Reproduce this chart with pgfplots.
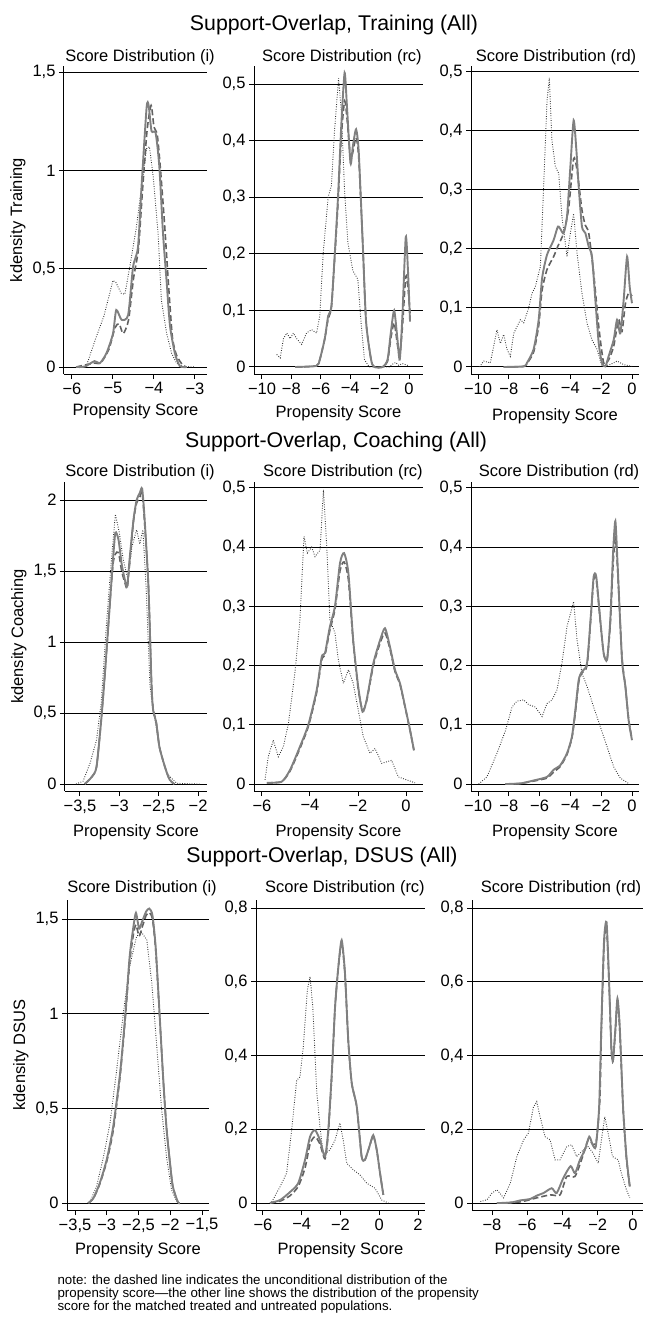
\documentclass[border=0pt]{standalone}
\usepackage{fontspec}
\setmainfont{Liberation Sans}
\usepackage{pgfplots}
\pgfplotsset{compat=1.18}

\newcommand{\fs}{\fontsize{16.5}{18}\selectfont}

\pgfplotsset{
  panel/.style={
    scale only axis,
    axis x line*=bottom, axis y line*=left,
    axis line style={black, line width=1pt},
    tick align=outside, major tick length=5pt,
    tick style={black, line width=1pt},
    minor tick num=0,
    ymajorgrids, grid style={black, line width=1pt},
    ticklabel style={font=\fs},
    label style={font=\fs},
    xlabel={Propensity Score},
    xlabel style={at={(axis description cs:0.5,0)}, anchor=base, yshift=-44pt},
  },
  dotl/.style={color=black!80, line width=0.9pt, dash pattern=on 0.8pt off 1.6pt, mark=none},
  dashl/.style={color=black!62, line width=1.6pt, dash pattern=on 6pt off 3pt, mark=none, smooth, tension=0.4},
  solidl/.style={color=black!50, line width=1.9pt, mark=none, smooth, tension=0.4},
}

\begin{document}
\begin{tikzpicture}
\path[use as bounding box] (0,0) rectangle (646pt,-1339pt);

% ---------------- Row 1: Training ----------------
\node[font=\fontsize{21.3}{24}\selectfont] at (334pt,-25pt) {Support-Overlap, Training (All)};
\node[font=\fs] at (140pt,-57pt) {Score Distribution (i)};
\node[font=\fs] at (342pt,-57pt) {Score Distribution (rc)};
\node[font=\fs] at (556pt,-57pt) {Score Distribution (rd)};

\begin{axis}[panel, at={(64pt,-374pt)}, anchor=south west, width=143pt, height=308pt,
  xmin=-6.195, xmax=-2.707, ymin=-0.0356, ymax=1.5305,
  xlabel style={yshift=3pt},
  xtick={-6,-5,-4,-3}, xticklabels={−6,−5,−4,−3},
  ytick={0,0.5,1,1.5}, yticklabels={0,{0,5},1,{1,5}},
  ylabel={kdensity Training}]
\addplot[dotl] coordinates {(-5.9,0)(-5.65,0.005)(-5.43,0.14)(-5.22,0.26)(-5.0,0.44)(-4.93,0.43)(-4.8,0.375)(-4.71,0.37)(-4.59,0.51)(-4.43,0.71)(-4.3,0.92)(-4.18,1.11)(-4.11,1.12)(-4.02,0.97)(-3.9,0.68)(-3.82,0.34)(-3.69,0.17)(-3.57,0.07)(-3.45,0.02)(-3.3,0.003)(-3.0,0)};
\addplot[dashl] coordinates {(-5.9,0)(-5.45,0.02)(-5.3,0.02)(-5.1,0.09)(-4.95,0.2)(-4.85,0.22)(-4.75,0.17)(-4.62,0.24)(-4.5,0.45)(-4.38,0.6)(-4.28,0.9)(-4.17,1.2)(-4.07,1.33)(-4.0,1.22)(-3.92,1.18)(-3.84,1.0)(-3.74,0.72)(-3.64,0.4)(-3.55,0.15)(-3.45,0.06)(-3.3,0.01)(-3.2,0)};
\addplot[solidl] coordinates {(-5.9,0)(-5.69,0.002)(-5.45,0.03)(-5.32,0.02)(-5.16,0.07)(-5.0,0.17)(-4.92,0.29)(-4.79,0.24)(-4.63,0.265)(-4.51,0.51)(-4.39,0.61)(-4.30,0.93)(-4.18,1.32)(-4.13,1.33)(-4.06,1.2)(-3.96,1.19)(-3.87,1.02)(-3.78,0.68)(-3.69,0.43)(-3.61,0.21)(-3.49,0.07)(-3.37,0.005)(-3.2,0)};
\end{axis}

\begin{axis}[panel, at={(254pt,-374pt)}, anchor=south west, width=169pt, height=308pt,
  xmin=-10.544, xmax=0.952, ymin=-0.0124, ymax=0.5318,
  xlabel style={yshift=1pt},
  xtick={-10,-8,-6,-4,-2,0}, xticklabels={−10,−8,−6,−4,−2,0},
  ytick={0,0.1,0.2,0.3,0.4,0.5}, yticklabels={0,{0,1},{0,2},{0,3},{0,4},{0,5}}]
\addplot[dotl] coordinates {(-9.0,0.022)(-8.76,0.016)(-8.54,0.05)(-8.31,0.06)(-8.09,0.05)(-7.87,0.06)(-7.64,0.05)(-7.3,0.04)(-6.97,0.06)(-6.63,0.066)(-6.29,0.06)(-6.07,0.09)(-5.84,0.2)(-5.5,0.30)(-5.28,0.32)(-5.06,0.42)(-4.79,0.51)(-4.6,0.45)(-4.38,0.31)(-4.16,0.22)(-3.82,0.17)(-3.48,0.155)(-3.26,0.078)(-3.03,0.013)(-2.7,0)(-1.35,0)(-1.12,0.005)(-0.9,0.008)(-0.7,0.003)(-0.45,0.006)(0.0,0.002)};
\addplot[dashl] coordinates {(-7.75,0)(-6.3,0.002)(-6.07,0.013)(-5.73,0.05)(-5.5,0.085)(-5.28,0.105)(-5.06,0.19)(-4.83,0.29)(-4.6,0.41)(-4.38,0.47)(-4.22,0.44)(-3.98,0.37)(-3.82,0.38)(-3.6,0.405)(-3.42,0.37)(-3.15,0.22)(-2.92,0.08)(-2.58,0.013)(-2.36,0)(-1.8,0)(-1.46,0.01)(-1.24,0.05)(-1.01,0.078)(-0.79,0.04)(-0.63,0.02)(-0.45,0.07)(-0.22,0.16)(-0.07,0.14)(0.07,0.095)};
\addplot[solidl] coordinates {(-7.75,0)(-6.3,0.002)(-6.07,0.013)(-5.73,0.05)(-5.5,0.09)(-5.28,0.107)(-5.06,0.195)(-4.83,0.30)(-4.6,0.43)(-4.38,0.52)(-4.22,0.46)(-3.98,0.36)(-3.82,0.39)(-3.6,0.42)(-3.42,0.38)(-3.15,0.22)(-2.92,0.08)(-2.58,0.013)(-2.36,0)(-1.8,0)(-1.46,0.013)(-1.24,0.06)(-1.01,0.10)(-0.79,0.05)(-0.63,0.013)(-0.45,0.09)(-0.22,0.23)(-0.07,0.17)(0.07,0.08)};
\end{axis}

\begin{axis}[panel, at={(471pt,-374pt)}, anchor=south west, width=168pt, height=308pt,
  xmin=-10.455, xmax=0.455, ymin=-0.0119, ymax=0.510,
  xlabel style={yshift=-2pt},
  xtick={-10,-8,-6,-4,-2,0}, xticklabels={−10,−8,−6,−4,−2,0},
  ytick={0,0.1,0.2,0.3,0.4,0.5}, yticklabels={0,{0,1},{0,2},{0,3},{0,4},{0,5}}]
\addplot[dotl] coordinates {(-9.9,0)(-9.63,0.01)(-9.2,0.007)(-8.77,0.063)(-8.55,0.04)(-8.33,0.055)(-8.12,0.03)(-7.9,0.018)(-7.68,0.057)(-7.25,0.08)(-7.03,0.075)(-6.71,0.10)(-6.49,0.125)(-6.28,0.136)(-5.95,0.17)(-5.74,0.305)(-5.52,0.45)(-5.37,0.49)(-5.2,0.384)(-4.98,0.34)(-4.76,0.328)(-4.55,0.255)(-4.22,0.187)(-4.0,0.227)(-3.79,0.26)(-3.57,0.193)(-3.25,0.125)(-2.92,0.074)(-2.6,0.046)(-2.27,0.03)(-1.95,0.001)(-1.41,0.004)(-0.97,0.01)(-0.54,0.004)(0,0.001)};
\addplot[dashl] coordinates {(-8.33,0)(-7.03,0.001)(-6.82,0.006)(-6.39,0.025)(-6.06,0.07)(-5.84,0.13)(-5.52,0.165)(-5.09,0.187)(-4.81,0.205)(-4.44,0.227)(-4.11,0.27)(-3.79,0.353)(-3.57,0.334)(-3.25,0.266)(-3.03,0.24)(-2.81,0.227)(-2.49,0.159)(-2.16,0.069)(-1.84,0.007)(-1.52,0.012)(-1.19,0.035)(-0.87,0.08)(-0.65,0.06)(-0.43,0.107)(-0.22,0.125)(0,0.12)};
\addplot[solidl] coordinates {(-8.33,0)(-7.03,0.001)(-6.82,0.007)(-6.39,0.03)(-6.06,0.08)(-5.84,0.15)(-5.52,0.19)(-5.09,0.215)(-4.81,0.238)(-4.61,0.232)(-4.44,0.227)(-4.22,0.255)(-4.0,0.34)(-3.79,0.418)(-3.61,0.367)(-3.46,0.305)(-3.25,0.238)(-3.03,0.227)(-2.81,0.204)(-2.6,0.187)(-2.38,0.114)(-2.16,0.04)(-1.95,0.007)(-1.73,0.001)(-1.52,0.018)(-1.19,0.046)(-0.97,0.08)(-0.76,0.057)(-0.54,0.114)(-0.32,0.187)(-0.15,0.136)(0.0,0.108)};
\end{axis}

% ---------------- Row 2: Coaching ----------------
\node[font=\fontsize{21.3}{24}\selectfont] at (336pt,-442pt) {Support-Overlap, Coaching (All)};
\node[font=\fs] at (140pt,-472pt) {Score Distribution (i)};
\node[font=\fs] at (343pt,-472pt) {Score Distribution (rc)};
\node[font=\fs] at (559pt,-472pt) {Score Distribution (rd)};

\begin{axis}[panel, at={(65pt,-791pt)}, anchor=south west, width=142pt, height=309pt,
  xmin=-3.69, xmax=-1.886, ymin=-0.049, ymax=2.127,
  xlabel style={yshift=-1pt},
  xtick={-3.5,-3,-2.5,-2}, xticklabels={{−3,5},−3,{−2,5},−2},
  ytick={0,0.5,1,1.5,2}, yticklabels={0,{0,5},1,{1,5},2},
  ylabel={kdensity Coaching}]
\addplot[dotl] coordinates {(-3.55,0)(-3.46,0.02)(-3.37,0.15)(-3.29,0.31)(-3.23,0.57)(-3.16,1.15)(-3.1,1.58)(-3.05,1.9)(-3.0,1.77)(-2.95,1.58)(-2.89,1.44)(-2.84,1.67)(-2.78,1.79)(-2.74,1.69)(-2.70,1.79)(-2.66,1.39)(-2.61,0.69)(-2.57,0.52)(-2.53,0.4)(-2.49,0.26)(-2.4,0.075)(-2.27,0.005)(-1.98,0)};
\addplot[dashl] coordinates {(-3.44,0)(-3.35,0.05)(-3.29,0.12)(-3.23,0.45)(-3.18,0.8)(-3.12,1.27)(-3.08,1.55)(-3.05,1.62)(-3.01,1.63)(-2.97,1.5)(-2.93,1.42)(-2.90,1.38)(-2.87,1.55)(-2.82,1.85)(-2.78,1.98)(-2.74,2.02)(-2.71,2.05)(-2.68,1.85)(-2.63,1.4)(-2.59,0.7)(-2.57,0.53)(-2.53,0.43)(-2.49,0.26)(-2.42,0.12)(-2.36,0.03)(-2.3,0)};
\addplot[solidl] coordinates {(-3.44,0)(-3.35,0.05)(-3.29,0.12)(-3.23,0.45)(-3.18,0.8)(-3.12,1.27)(-3.08,1.58)(-3.05,1.77)(-3.01,1.72)(-2.97,1.55)(-2.93,1.44)(-2.90,1.39)(-2.87,1.58)(-2.82,1.86)(-2.78,2.0)(-2.74,2.05)(-2.71,2.08)(-2.68,1.88)(-2.63,1.39)(-2.59,0.69)(-2.57,0.52)(-2.53,0.43)(-2.49,0.26)(-2.42,0.12)(-2.36,0.03)(-2.3,0)};
\end{axis}

\begin{axis}[panel, at={(254pt,-791pt)}, anchor=south west, width=169pt, height=309pt,
  xmin=-6.333, xmax=0.708, ymin=-0.0118, ymax=0.510,
  xlabel style={yshift=-1pt},
  xtick={-6,-4,-2,0}, xticklabels={−6,−4,−2,0},
  ytick={0,0.1,0.2,0.3,0.4,0.5}, yticklabels={0,{0,1},{0,2},{0,3},{0,4},{0,5}}]
\addplot[dotl] coordinates {(-5.875,0.007)(-5.74,0.046)(-5.53,0.074)(-5.32,0.046)(-5.11,0.063)(-4.9,0.102)(-4.63,0.187)(-4.42,0.277)(-4.25,0.418)(-4.11,0.39)(-3.93,0.40)(-3.79,0.384)(-3.58,0.395)(-3.44,0.497)(-3.3,0.40)(-3.17,0.277)(-2.96,0.255)(-2.82,0.21)(-2.61,0.17)(-2.40,0.193)(-2.2,0.17)(-1.99,0.125)(-1.78,0.08)(-1.5,0.052)(-1.29,0.06)(-1.01,0.035)(-0.6,0.04)(-0.32,0.012)(0.03,0.007)(0.375,0.002)};
\addplot[dashl] coordinates {(-5.8,0.002)(-5.18,0.004)(-4.83,0.022)(-4.42,0.06)(-4.07,0.097)(-3.72,0.155)(-3.51,0.21)(-3.375,0.218)(-3.17,0.26)(-2.96,0.295)(-2.75,0.36)(-2.58,0.375)(-2.40,0.345)(-2.2,0.24)(-1.99,0.16)(-1.81,0.125)(-1.64,0.14)(-1.36,0.2)(-1.08,0.238)(-0.875,0.255)(-0.67,0.228)(-0.46,0.19)(-0.25,0.168)(-0.04,0.13)(0.17,0.09)(0.33,0.057)};
\addplot[solidl] coordinates {(-5.8,0.002)(-5.18,0.004)(-4.83,0.024)(-4.42,0.063)(-4.07,0.1)(-3.72,0.159)(-3.51,0.215)(-3.375,0.221)(-3.17,0.266)(-2.96,0.30)(-2.75,0.373)(-2.58,0.39)(-2.40,0.356)(-2.2,0.243)(-1.99,0.164)(-1.81,0.122)(-1.64,0.142)(-1.36,0.204)(-1.08,0.243)(-0.875,0.263)(-0.67,0.232)(-0.46,0.193)(-0.25,0.17)(-0.04,0.131)(0.17,0.091)(0.33,0.057)};
\end{axis}

\begin{axis}[panel, at={(471pt,-791pt)}, anchor=south west, width=168pt, height=309pt,
  xmin=-10.455, xmax=0.455, ymin=-0.0118, ymax=0.510,
  xlabel style={yshift=-1pt},
  xtick={-10,-8,-6,-4,-2,0}, xticklabels={−10,−8,−6,−4,−2,0},
  ytick={0,0.1,0.2,0.3,0.4,0.5}, yticklabels={0,{0,1},{0,2},{0,3},{0,4},{0,5}}]
\addplot[dotl] coordinates {(-9.96,0)(-9.42,0.012)(-8.77,0.052)(-8.22,0.09)(-7.79,0.13)(-7.47,0.14)(-7.03,0.142)(-6.71,0.134)(-6.28,0.13)(-5.84,0.114)(-5.52,0.136)(-5.19,0.142)(-4.87,0.159)(-4.55,0.204)(-4.22,0.266)(-3.79,0.308)(-3.57,0.244)(-3.25,0.187)(-2.92,0.165)(-2.49,0.13)(-2.06,0.097)(-1.62,0.063)(-1.19,0.029)(-0.76,0.01)(-0.22,0.001)};
\addplot[dashl] coordinates {(-8.22,0)(-7.25,0.001)(-6.39,0.005)(-5.52,0.01)(-5.09,0.02)(-4.65,0.03)(-4.22,0.05)(-3.9,0.078)(-3.68,0.12)(-3.46,0.172)(-3.25,0.188)(-2.92,0.2)(-2.66,0.285)(-2.49,0.345)(-2.32,0.345)(-2.06,0.275)(-1.84,0.22)(-1.62,0.21)(-1.41,0.27)(-1.23,0.37)(-1.08,0.415)(-0.93,0.36)(-0.65,0.215)(-0.43,0.165)(-0.22,0.11)(0,0.076)};
\addplot[solidl] coordinates {(-8.22,0)(-7.25,0.001)(-6.39,0.006)(-5.52,0.012)(-5.09,0.024)(-4.65,0.032)(-4.22,0.052)(-3.9,0.08)(-3.68,0.125)(-3.46,0.176)(-3.25,0.19)(-2.92,0.204)(-2.66,0.289)(-2.49,0.35)(-2.32,0.35)(-2.06,0.277)(-1.84,0.221)(-1.62,0.21)(-1.41,0.277)(-1.23,0.39)(-1.08,0.444)(-0.93,0.368)(-0.65,0.21)(-0.43,0.165)(-0.22,0.108)(0,0.074)};
\end{axis}

% ---------------- Row 3: DSUS ----------------
\node[font=\fontsize{21.3}{24}\selectfont] at (322pt,-857pt) {Support-Overlap, DSUS (All)};
\node[font=\fs] at (142pt,-888pt) {Score Distribution (i)};
\node[font=\fs] at (345pt,-888pt) {Score Distribution (rc)};
\node[font=\fs] at (561pt,-888pt) {Score Distribution (rd)};

\begin{axis}[panel, at={(67pt,-1210pt)}, anchor=south west, width=142pt, height=310pt,
  xmin=-3.626, xmax=-1.39, ymin=-0.037, ymax=1.601,
  xtick={-3.5,-3,-2.5,-2,-1.5}, xticklabels={{−3,5},−3,{−2,5},−2,{−1,5}},
  ytick={0,0.5,1,1.5}, yticklabels={0,{0,5},1,{1,5}},
  ylabel={kdensity DSUS}]
\addplot[dotl] coordinates {(-3.3,0)(-3.26,0.01)(-3.16,0.088)(-3.05,0.246)(-2.95,0.42)(-2.85,0.686)(-2.74,1.0)(-2.64,1.25)(-2.53,1.41)(-2.45,1.43)(-2.37,1.39)(-2.29,1.16)(-2.22,0.86)(-2.14,0.51)(-2.06,0.246)(-1.98,0.07)(-1.9,0.01)(-1.85,0)};
\addplot[dashl] coordinates {(-3.29,0)(-3.21,0.024)(-3.11,0.1)(-3.0,0.22)(-2.9,0.38)(-2.79,0.67)(-2.71,0.97)(-2.64,1.27)(-2.58,1.42)(-2.54,1.47)(-2.49,1.41)(-2.44,1.46)(-2.38,1.52)(-2.33,1.535)(-2.28,1.5)(-2.23,1.34)(-2.18,1.06)(-2.11,0.65)(-2.06,0.40)(-2.01,0.23)(-1.96,0.088)(-1.88,0.005)(-1.85,0)};
\addplot[solidl] coordinates {(-3.29,0)(-3.21,0.026)(-3.11,0.105)(-3.0,0.23)(-2.9,0.40)(-2.79,0.686)(-2.71,0.985)(-2.64,1.30)(-2.58,1.46)(-2.54,1.533)(-2.49,1.45)(-2.44,1.49)(-2.38,1.54)(-2.33,1.556)(-2.28,1.52)(-2.23,1.354)(-2.18,1.07)(-2.11,0.65)(-2.06,0.40)(-2.01,0.23)(-1.96,0.088)(-1.88,0.005)(-1.85,0)};
\end{axis}

\begin{axis}[panel, at={(256pt,-1210pt)}, anchor=south west, width=169pt, height=310pt,
  xmin=-6.36, xmax=2.36, ymin=-0.019, ymax=0.8217,
  xtick={-6,-4,-2,0,2}, xticklabels={−6,−4,−2,0,2},
  ytick={0,0.2,0.4,0.6,0.8}, yticklabels={0,{0,2},{0,4},{0,6},{0,8}}]
\addplot[dotl] coordinates {(-5.55,0.003)(-5.12,0.044)(-4.78,0.081)(-4.52,0.198)(-4.26,0.333)(-4.09,0.342)(-3.92,0.424)(-3.71,0.578)(-3.57,0.614)(-3.43,0.532)(-3.23,0.306)(-3.06,0.207)(-2.89,0.13)(-2.54,0.144)(-2.28,0.171)(-2.03,0.217)(-1.86,0.171)(-1.68,0.108)(-1.34,0.09)(-0.99,0.076)(-0.65,0.054)(-0.22,0.04)(0.13,0.008)(0.47,0)};
\addplot[dashl] coordinates {(-5.64,0)(-5.12,0.005)(-4.6,0.02)(-4.18,0.045)(-3.83,0.095)(-3.57,0.16)(-3.32,0.18)(-3.06,0.16)(-2.8,0.12)(-2.63,0.19)(-2.45,0.345)(-2.28,0.53)(-2.11,0.64)(-1.94,0.705)(-1.77,0.62)(-1.60,0.44)(-1.42,0.325)(-1.16,0.26)(-0.91,0.126)(-0.74,0.117)(-0.51,0.152)(-0.31,0.182)(-0.13,0.144)(0.04,0.081)(0.21,0.022)};
\addplot[solidl] coordinates {(-5.64,0)(-5.12,0.008)(-4.6,0.03)(-4.18,0.054)(-3.83,0.117)(-3.57,0.18)(-3.32,0.198)(-3.06,0.171)(-2.8,0.126)(-2.63,0.198)(-2.45,0.352)(-2.28,0.532)(-2.11,0.641)(-1.94,0.713)(-1.77,0.624)(-1.60,0.442)(-1.42,0.325)(-1.16,0.261)(-0.91,0.126)(-0.74,0.117)(-0.51,0.153)(-0.31,0.184)(-0.13,0.144)(0.04,0.081)(0.21,0.022)};
\end{axis}

\begin{axis}[panel, at={(472pt,-1210pt)}, anchor=south west, width=171pt, height=310pt,
  xmin=-9.135, xmax=0.57, ymin=-0.019, ymax=0.8217,
  xtick={-8,-6,-4,-2,0}, xticklabels={−8,−6,−4,−2,0},
  ytick={0,0.2,0.4,0.6,0.8}, yticklabels={0,{0,2},{0,4},{0,6},{0,8}}]
\addplot[dotl] coordinates {(-8.66,0.004)(-8.28,0.009)(-8.0,0.027)(-7.72,0.036)(-7.34,0.014)(-6.96,0.054)(-6.59,0.126)(-6.21,0.171)(-5.93,0.19)(-5.65,0.26)(-5.46,0.275)(-5.27,0.234)(-4.99,0.18)(-4.7,0.171)(-4.42,0.117)(-4.14,0.117)(-3.76,0.153)(-3.48,0.158)(-3.2,0.126)(-2.82,0.144)(-2.54,0.153)(-2.26,0.135)(-1.97,0.108)(-1.79,0.171)(-1.6,0.234)(-1.41,0.19)(-1.16,0.126)(-0.84,0.117)(-0.66,0.081)(-0.37,0.036)(-0.18,0.014)};
\addplot[dashl] coordinates {(-7.72,0)(-6.4,0.003)(-5.46,0.014)(-4.7,0.022)(-4.14,0.022)(-3.76,0.072)(-3.29,0.072)(-2.92,0.117)(-2.54,0.171)(-2.26,0.158)(-2.07,0.171)(-1.88,0.28)(-1.79,0.47)(-1.64,0.70)(-1.5,0.75)(-1.37,0.61)(-1.22,0.41)(-1.13,0.385)(-0.99,0.47)(-0.88,0.55)(-0.75,0.47)(-0.56,0.255)(-0.37,0.12)(-0.18,0.045)};
\addplot[solidl] coordinates {(-7.72,0)(-6.96,0.001)(-6.4,0.007)(-5.83,0.011)(-5.46,0.02)(-5.08,0.027)(-4.61,0.04)(-4.33,0.027)(-3.95,0.068)(-3.54,0.1)(-3.29,0.081)(-3.01,0.117)(-2.73,0.144)(-2.48,0.18)(-2.29,0.158)(-2.11,0.153)(-1.92,0.26)(-1.79,0.487)(-1.64,0.712)(-1.5,0.762)(-1.37,0.622)(-1.22,0.415)(-1.13,0.388)(-0.99,0.478)(-0.88,0.555)(-0.75,0.478)(-0.56,0.26)(-0.37,0.126)(-0.18,0.045)};
\end{axis}

% ---------------- Note ----------------
\node[anchor=west, align=left, font=\fontsize{13.3}{12.8}\selectfont] at (54pt,-1294pt)
  {note: the dashed line indicates the unconditional distribution of the\\
   propensity score—the other line shows the distribution of the propensity\\
   score for the matched treated and untreated populations.};
\end{tikzpicture}
\end{document}
